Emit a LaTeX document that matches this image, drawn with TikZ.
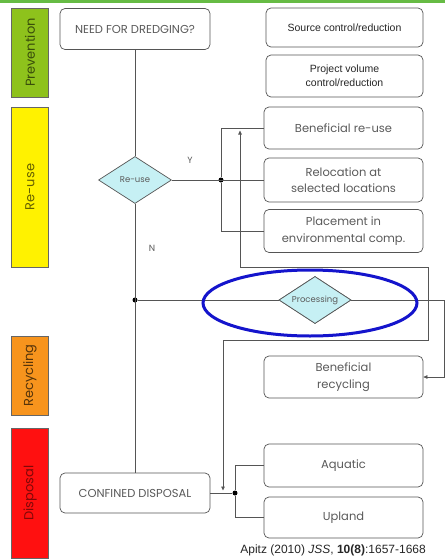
\documentclass[tikz,border=0pt]{standalone}
\usepackage{fontspec}
\setmainfont{Poppins}
\newfontfamily\arialf{Liberation Sans}
\usetikzlibrary{shapes.geometric,arrows.meta}
\definecolor{prevgreen}{HTML}{8EC21C}
\definecolor{reuseyellow}{HTML}{FFF200}
\definecolor{recorange}{HTML}{F7941D}
\definecolor{dispred}{HTML}{FF1010}
\definecolor{topgreen}{HTML}{66BB44}
\definecolor{diafill}{HTML}{C6F0F4}
\definecolor{ellblue}{HTML}{1414CC}
\definecolor{linegray}{HTML}{555555}
\definecolor{txtgray}{HTML}{5A5A5A}
\begin{document}
\begin{tikzpicture}[x=1pt,y=-1pt,
  box/.style={draw=linegray, rounded corners=5pt, line width=0.7pt,
    minimum width=159pt, minimum height=42pt, align=center, text=txtgray,
    font=\fontsize{11.5}{16.5}\selectfont, inner sep=0pt},
  abox/.style={box, font=\arialf\fontsize{10.5}{14}\selectfont, text=black!85},
  ubox/.style={box, minimum width=150pt, minimum height=41pt, font=\fontsize{11.5}{13}\selectfont},
  bar/.style={draw=black!60, line width=0.5pt, rotate=90, minimum height=37pt,
    inner sep=0pt, font=\fontsize{13}{15}\selectfont},
  dia/.style={diamond, aspect=1.55, draw=linegray, fill=diafill, line width=0.7pt,
    inner sep=0pt, minimum width=73pt, minimum height=47pt, text=txtgray,
    font=\fontsize{8.5}{10}\selectfont},
  conn/.style={draw=linegray, line width=0.7pt},
  tip/.style={-{Triangle[length=4pt,width=3.5pt]}},
  dot/.style={circle, fill=black, inner sep=0pt, minimum size=5pt},
  lbl/.style={text=txtgray, font=\fontsize{9}{10}\selectfont},
]
\useasboundingbox (0,0) rectangle (445,560);
\fill[white] (0,0) rectangle (445,560);
\fill[topgreen] (0,0) rectangle (445,2.5);

% side bars
\node[bar, fill=prevgreen, minimum width=89pt, text=black!60!prevgreen] (bprev) at (30,52.5) {Prevention};
\node[bar, fill=reuseyellow, minimum width=160pt, text=black!60!reuseyellow] (breuse) at (30,187) {Re-use};
\node[bar, fill=recorange, minimum width=79pt, text=black!65!recorange] (brec) at (30,375.5) {Recycling};
\node[bar, fill=dispred, minimum width=130pt, text=black!50!dispred] (bdisp) at (30,493) {Disposal};

% boxes
\node[ubox] (need) at (135,29) {NEED FOR DREDGING?};
\node[abox, minimum width=157pt, minimum height=39pt] (src) at (344.5,27.5) {Source control/reduction};
\node[abox, minimum width=157pt] (proj) at (344.5,76) {Project volume\\control/reduction};
\node[box] (ben) at (343.5,128) {Beneficial re-use};
\node[box, minimum height=44pt] (reloc) at (343.5,180) {Relocation at\\selected locations};
\node[box, minimum height=43pt] (place) at (343.5,231) {Placement in\\environmental comp.};
\node[box] (benrec) at (343.5,377) {Beneficial\\recycling};
\node[ubox, minimum height=40pt] (conf) at (135,493) {CONFINED DISPOSAL};
\node[box, minimum height=43pt] (aqu) at (343.5,465.5) {Aquatic};
\node[box, minimum height=41pt] (upl) at (343.5,517.5) {Upland};

% diamonds
\node[dia] (reuse) at (135,180) {Re-use};
\node[dia, minimum width=72pt] (proc) at (315,300) {Processing};

% junctions
\node[dot] (j1) at (221,180) {};
\node[dot] (j2) at (135,300) {};
\node[dot] (j3) at (235,493) {};

% coordinates for the loop connector
\coordinate (l0) at (240,130.5);
\coordinate (l1) at (240,267);
\coordinate (l2) at (428,267);
\coordinate (l3) at (428,340);
\coordinate (l4) at (223,340);
\coordinate (l5) at (223,490.5);
\coordinate (p1) at (444,300);

% connectors
\draw[conn] (need.south) -- (reuse.north);
\draw[conn] (reuse.south) -- (conf.north);
\draw[conn] (reuse.east) -- (reloc.west);
\draw[conn] (ben.west) -| (j1) |- (place.west);
\draw[conn, tip] (l1) -- (l0);
\draw[conn, tip] (l1) -- (l2) -- (l3) -- (l4) -- (l5);
\draw[conn] (j2) -- (proc.west);
\draw[conn, tip] (proc.east) -- (p1) |- (benrec.east);
\draw[conn] (conf.east) -- (j3);
\draw[conn] (aqu.west) -| (j3) |- (upl.west);

% redraw diamond over lines
\node[dia, minimum width=72pt] at (315,300) {Processing};

% labels
\node[lbl] (ly) at (190,160) {Y};
\node[lbl] (ln) at (152,248) {N};

% highlight ellipse
\draw[ellblue, line width=3pt] (310,303) ellipse [x radius=107, y radius=33];

% citation
\node[anchor=base east, inner sep=0pt, font=\arialf\fontsize{12}{14}\selectfont, text=black!85] (cite) at (426,553)
  {Apitz (2010) \textit{JSS}, \textbf{10(8)}:1657-1668};
\end{tikzpicture}
\end{document}
